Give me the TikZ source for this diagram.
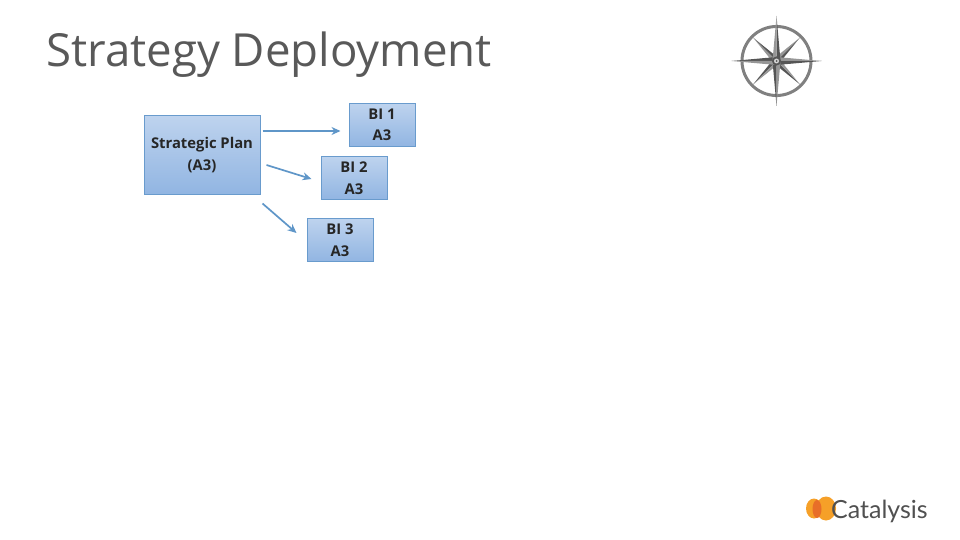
\documentclass[tikz,border=0pt]{standalone}
\usepackage{fontspec}
\setmainfont{Carlito}
\newfontfamily\titlefont{Open Sans}
\newfontfamily\boxfont{Open Sans}
\newfontfamily\logofont{Lato}
\usetikzlibrary{positioning, arrows.meta, calc}
\definecolor{titlecolor}{RGB}{89,89,89}
\definecolor{boxtop}{RGB}{190,211,238}
\definecolor{boxbottom}{RGB}{145,181,226}
\definecolor{boxborder}{RGB}{105,155,205}
\definecolor{arrowcolor}{RGB}{95,150,200}
\definecolor{compassdark}{RGB}{85,85,85}
\definecolor{compasslight}{RGB}{150,150,150}
\definecolor{logoorange}{RGB}{246,160,40}
\definecolor{logodeep}{RGB}{232,110,40}
\definecolor{logotext}{RGB}{80,80,80}

\begin{document}
\begin{tikzpicture}[
    x=1pt,
    y=-1pt,
    arrow/.style={-{Stealth[length=9pt,width=8pt]}, line width=1.7pt, color=arrowcolor},
    planbox/.style={
        rectangle,
        top color=boxtop,
        bottom color=boxbottom,
        draw=boxborder,
        line width=1pt,
        align=center,
        inner sep=0pt,
        font=\boxfont\bfseries\fontsize{14.8}{21.5}\selectfont,
        text=black!85
    },
    bibox/.style={planbox, minimum width=66pt, minimum height=43pt}
]
\useasboundingbox (0,0) rectangle (960,540);

%% Title %%
\node (title) [anchor=west, inner sep=0pt, font=\titlefont\fontsize{45.6}{50}\selectfont, text=titlecolor] at (46,55) {Strategy Deployment};

%% Boxes %%
\node (plan) [planbox, minimum width=116pt, minimum height=79pt] at (202,155) {Strategic Plan\\(A3)};
\node (bi1) [bibox] at (382,125) {BI 1\\A3};
\node (bi2) [bibox] at (354,178) {BI 2\\A3};
\node (bi3) [bibox] at (340,240) {BI 3\\A3};

%% ARROWS %%
\draw [arrow] ($(plan.east)+(2,-24)$) -- ($(bi1.west)+(-8,6)$);
\draw [arrow] ($(plan.east)+(6,10)$) -- ($(bi2.west)+(-9,1)$);
\draw [arrow] ($(plan.south east)+(2,8.5)$) -- ($(bi3.west)+(-10,-7)$);

%% Compass %%
\coordinate (compass) at (776.5,61);
\draw [compasslight!85!black, line width=3pt] (compass) circle [radius=34.5];
\foreach \ang in {45,135,225,315} {
    \fill [compassdark] ($(compass)+(\ang:33)$) -- ($(compass)+(\ang+90:3.5)$) -- (compass) -- cycle;
    \fill [compasslight] ($(compass)+(\ang:33)$) -- ($(compass)+(\ang-90:3.5)$) -- (compass) -- cycle;
}
\foreach \ang in {0,90,180,270} {
    \fill [compassdark] ($(compass)+(\ang:45)$) -- ($(compass)+(\ang+90:4)$) -- (compass) -- cycle;
    \fill [compasslight] ($(compass)+(\ang:45)$) -- ($(compass)+(\ang-90:4)$) -- (compass) -- cycle;
}
\fill [compassdark] (compass) circle [radius=4.5];
\fill [compasslight!40] (compass) circle [radius=2.5];
\fill [compassdark] (compass) circle [radius=1];

%% Logo %%
\coordinate (logo) at (820,508.5);
\fill [logoorange] ($(logo)+(6,0)$) ellipse [x radius=10, y radius=12];
\fill [logoorange] ($(logo)+(-6,0)$) ellipse [x radius=8, y radius=10];
\fill [logodeep] ($(logo)+(-3,0.5)$) ellipse [x radius=4.5, y radius=9];
\node (brand) [anchor=west, inner sep=0pt, font=\logofont\fontsize{25}{30}\selectfont, text=logotext] at (831,511) {Catalysis};
\end{tikzpicture}
\end{document}
